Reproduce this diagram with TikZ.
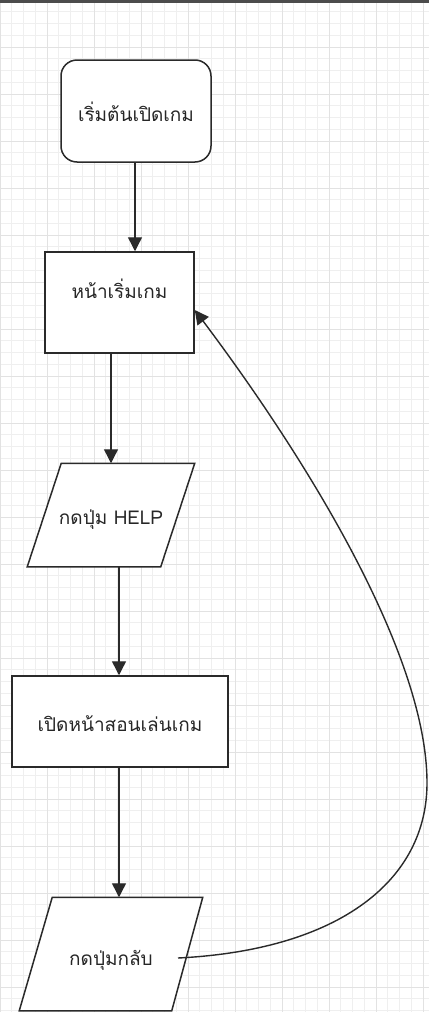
\documentclass[tikz,border=0pt]{standalone}
\usepackage{fontspec}
\newfontfamily\thai[Script=Thai]{Loma}
\usetikzlibrary{arrows.meta}
\pgfdeclarelayer{gridlayer}
\pgfdeclarelayer{shapelayer}
\pgfsetlayers{gridlayer,shapelayer,main}
\definecolor{edge}{HTML}{2A2A2A}
\definecolor{gminor}{HTML}{EFEFEF}
\definecolor{gmajor}{HTML}{E2E2E2}
\tikzset{
  box/.style={draw=edge, line width=1.5pt, fill=white, font=\thai\fontsize{19}{21}\selectfont, text=black!85, inner sep=0pt},
  startbox/.style={box, rounded corners=16pt, minimum width=150pt, minimum height=102pt},
  procbox/.style={box, rectangle},
  iobox/.style={box, draw=none, fill=none, rectangle},
  ioshape/.style={draw=edge, line width=1.5pt, fill=white, line join=miter},
  arr/.style={draw=edge, line width=1.4pt, -{Triangle[length=14pt,width=14pt]}},
  gridminor/.style={draw=gminor, line width=0.6pt},
  gridmajor/.style={draw=gmajor, line width=0.7pt}
}
\newcommand{\lbl}[2]{\raisebox{#1}[0pt][0pt]{#2}}
\begin{document}
\begin{tikzpicture}[x=1pt,y=-1pt]
\useasboundingbox (0,0) rectangle (429,1012);
\begin{pgfonlayer}{gridlayer}
\fill[white] (0,0) rectangle (429,1012);
\foreach \i in {0,...,36} {\draw[gridminor] (\i*11.75,0) -- (\i*11.75,1012);}
\foreach \i in {0,...,86} {\draw[gridminor] (0,\i*11.75) -- (429,\i*11.75);}
\foreach \i in {0,...,9} {\draw[gridmajor] (\i*47,0) -- (\i*47,1012);}
\foreach \i in {0,...,21} {\draw[gridmajor] (0,\i*47) -- (429,\i*47);}
\fill[black!70] (0,0) rectangle (429,3);
\end{pgfonlayer}

\node[startbox] (n1) at (136,111) {\lbl{-10pt}{เริ่มต้นเปิดเกม}};
\node[procbox, minimum width=149pt, minimum height=101pt] (n2) at (119.5,302.5) {\lbl{4.5pt}{หน้าเริ่มเกม}};
\node[iobox, minimum width=166pt, minimum height=102pt] (n3) at (111,515) {\lbl{-9pt}{กดปุ่ม HELP}};
\node[procbox, minimum width=216pt, minimum height=91pt] (n4) at (120,721.5) {\lbl{-10pt}{เปิดหน้าสอนเล่นเกม}};
\node[iobox, minimum width=182pt, minimum height=112pt] (n5) at (111,954) {\lbl{-11pt}{กดปุ่มกลับ}};

\begin{pgfonlayer}{shapelayer}
\draw[ioshape] ([xshift=34pt]n3.north west) -- (n3.north east) -- ([xshift=-34pt]n3.south east) -- (n3.south west) -- cycle;
\draw[ioshape] ([xshift=33pt]n5.north west) -- (n5.north east) -- ([xshift=-31pt]n5.south east) -- (n5.south west) -- cycle;
\end{pgfonlayer}

\draw[arr] ([xshift=-1pt]n1.south) -- ([xshift=-1pt]n1.south |- n2.north);
\draw[arr] ([xshift=-8.5pt]n2.south) -- ([xshift=-8.5pt]n2.south |- n3.north);
\draw[arr] ([xshift=-1pt]n4.north |- n3.south) -- ([xshift=-1pt]n4.north);
\draw[arr] ([xshift=-1pt]n4.south) -- ([xshift=-1pt]n4.south |- n5.north);

\coordinate (bend) at (427,783);
\draw[arr] ([xshift=67pt,yshift=-4pt]n5.center) .. controls (340,950) and (427,880) .. (bend)
  .. controls (427,650) and (300,450) .. ([yshift=-7.5pt]n2.east);
\end{tikzpicture}
\end{document}
